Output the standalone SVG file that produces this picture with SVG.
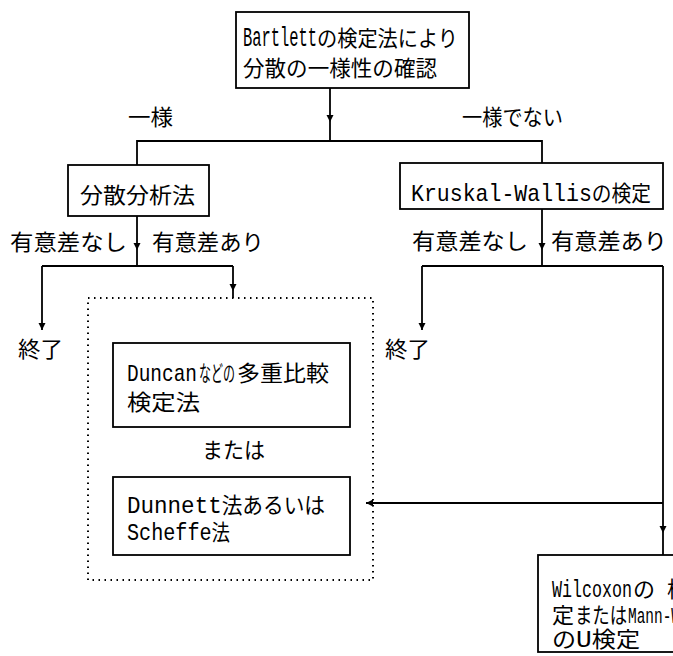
<svg xmlns="http://www.w3.org/2000/svg" width="673" height="656" viewBox="0 0 673 656">
<defs>
<marker id="ah" viewBox="0 0 8 8" refX="8" refY="4" markerWidth="7" markerHeight="8" markerUnits="userSpaceOnUse" orient="auto">
<path d="M0,0 L8,4 L0,8 z" fill="#000"/>
</marker>
<style>
.box{fill:#fff;stroke:#000;stroke-width:1.8}
.dot{fill:none;stroke:#000;stroke-width:2;stroke-dasharray:1.5 4.5}
.ln{fill:none;stroke:#000;stroke-width:1.8}
.ar{fill:none;stroke:#000;stroke-width:1.8;marker-end:url(#ah)}
text{font-family:"Noto Sans CJK JP","Noto Sans",sans-serif;font-size:22px;fill:#000}
.lat{font-family:"Liberation Mono","DejaVu Sans Mono",monospace;font-size:24px}
</style>
</defs>
<rect width="673" height="656" fill="#fff"/>

<g id="connectors">
<path class="ar" d="M330,88 V122"/>
<path class="ln" d="M330,122 V141"/>
<path class="ln" d="M137,165 V141 H542 V164"/>
<path class="ar" d="M137,216 V250"/>
<path class="ln" d="M137,250 V266"/>
<path class="ln" d="M42,266 H233"/>
<path class="ar" d="M42,266 V330"/>
<path class="ar" d="M233,266 V291"/>
<path class="ln" d="M233,291 V298"/>
<path class="ar" d="M542,209 V250"/>
<path class="ln" d="M542,250 V266"/>
<path class="ln" d="M422,266 H663"/>
<path class="ar" d="M422,266 V330"/>
<path class="ar" d="M663,266 V533"/>
<path class="ln" d="M663,533 V555"/>
<path class="ar" d="M663,503 H366"/>
</g>

<g id="labels">
<text x="128" y="125" textLength="45" lengthAdjust="spacingAndGlyphs">一様</text>
<text x="462" y="125" textLength="101" lengthAdjust="spacingAndGlyphs">一様でない</text>
<text x="10" y="250" textLength="117" lengthAdjust="spacingAndGlyphs">有意差なし</text>
<text x="152" y="250" textLength="112" lengthAdjust="spacingAndGlyphs">有意差あり</text>
<text x="412" y="249" textLength="116" lengthAdjust="spacingAndGlyphs">有意差なし</text>
<text x="551" y="249" textLength="116" lengthAdjust="spacingAndGlyphs">有意差あり</text>
<text x="202" y="458" textLength="63" lengthAdjust="spacingAndGlyphs">または</text>
</g>

<g id="bartlett">
<rect class="box" x="236" y="12" width="233" height="76"/>
<text x="243" y="46"><tspan class="lat" style="font-size:27px" textLength="74" lengthAdjust="spacingAndGlyphs">Bartlett</tspan><tspan x="317" textLength="141" lengthAdjust="spacingAndGlyphs">の検定法により</tspan></text>
<text x="243" y="76" textLength="194" lengthAdjust="spacingAndGlyphs">分散の一様性の確認</text>
</g>

<g id="anova">
<rect class="box" x="68" y="165" width="141" height="51"/>
<text x="80" y="203" textLength="115" lengthAdjust="spacingAndGlyphs">分散分析法</text>
</g>

<g id="kruskal">
<rect class="box" x="400" y="163" width="263" height="46"/>
<text x="411" y="201" textLength="240" lengthAdjust="spacingAndGlyphs"><tspan class="lat">Kruskal-Wallis</tspan>の検定</text>
</g>

<g id="end-left">
<text x="18" y="357" textLength="45" lengthAdjust="spacingAndGlyphs">終了</text>
</g>

<g id="end-right">
<text x="385" y="357" textLength="45" lengthAdjust="spacingAndGlyphs">終了</text>
</g>

<g id="group-multiple">
<rect class="dot" x="88" y="298" width="285" height="282"/>
</g>

<g id="duncan">
<rect class="box" x="113" y="343" width="237" height="84"/>
<text x="127" y="381"><tspan class="lat" textLength="70" lengthAdjust="spacingAndGlyphs">Duncan</tspan><tspan x="199" textLength="36" lengthAdjust="spacingAndGlyphs">などの</tspan><tspan x="237" textLength="92" lengthAdjust="spacingAndGlyphs">多重比較</tspan></text>
<text x="127" y="410" textLength="73" lengthAdjust="spacingAndGlyphs">検定法</text>
</g>

<g id="dunnett">
<rect class="box" x="113" y="477" width="237" height="78"/>
<text x="127" y="513" textLength="198" lengthAdjust="spacingAndGlyphs"><tspan class="lat">Dunnett</tspan>法あるいは</text>
<text x="127" y="540" textLength="103" lengthAdjust="spacingAndGlyphs"><tspan class="lat">Scheffe</tspan>法</text>
</g>

<g id="wilcoxon">
<rect class="box" x="538" y="555" width="200" height="97"/>
<text x="552" y="597"><tspan class="lat" textLength="80" lengthAdjust="spacingAndGlyphs">Wilcoxon</tspan><tspan x="633">の</tspan><tspan x="667">検</tspan></text>
<text x="552" y="623"><tspan>定</tspan><tspan x="575" textLength="52" lengthAdjust="spacingAndGlyphs">または</tspan><tspan class="lat" x="628" style="font-size:22px" textLength="52" lengthAdjust="spacingAndGlyphs">Mann-W</tspan></text>
<text x="552" y="647" textLength="88" lengthAdjust="spacingAndGlyphs">の<tspan class="lat">U</tspan>検定</text>
</g>
</svg>
